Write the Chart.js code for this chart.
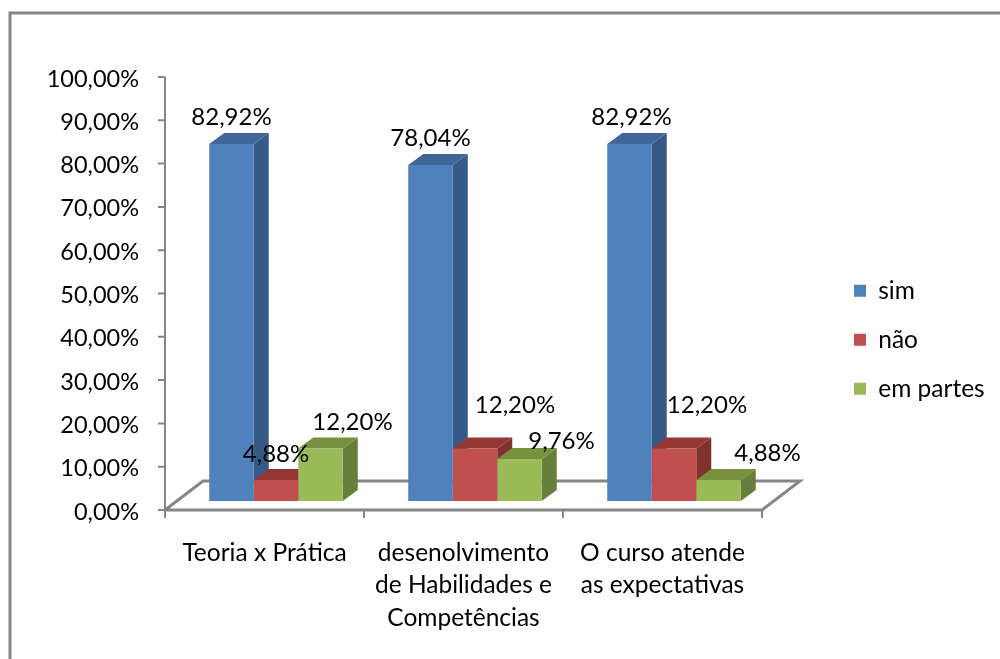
<!DOCTYPE html>
<html>
<head>
<meta charset="utf-8">
<script src="https://cdn.jsdelivr.net/npm/chart.js@4"></script>
<style>
  body { margin: 0; background: #fff; }
  canvas { display: block; }
</style>
</head>
<body>
<canvas id="chart-div" width="1000" height="659"></canvas>
<script>
const categories = [
  ['Teoria x Prática'],
  ['desenolvimento', 'de Habilidades e', 'Competências'],
  ['O curso atende', 'as expectativas']
];
const sim = [82.92, 78.04, 82.92];
const nao = [4.88, 12.20, 12.20];
const emPartes = [12.20, 9.76, 4.88];
const tickValues = [0, 10, 20, 30, 40, 50, 60, 70, 80, 90, 100];

const axisGrey = '#868686';

// [side, top] colours of the fake 3d boxes, one per series
const faceColors = [['#345a85', '#3f6898'], ['#7f3331', '#943734'], ['#66803b', '#77913f']];
const barDepth = { x: 15, y: -11 };
const floorDepth = { x: 38, y: -29 };
const axisShift = 11.5; // front of the floor sits left of and below the bars

// the labels do not sit on the bars in the original, so each one is nudged [dx, dy]
const labelNudge = [
  [[0, -27], [0, -27], [2, -27]],
  [[0, -26], [40, -43], [33, -43]],
  [[32, -26], [42, -18], [49, -27]]
];

function pct(v) {
  return v.toFixed(2).replace('.', ',') + '%';
}

const box3d = {
  id: 'box3d',
  afterLayout(chart) {
    // legend floats right of the plot
    const legend = chart.legend;
    legend.left = 829.5;
    legend.right = 1000;
    legend.top = 254;
    legend.bottom = 500;
  },
  beforeDatasetsDraw(chart) {
    const ctx = chart.ctx;
    const area = chart.chartArea;
    const yTicks = chart.scales.yTicks;
    const x0 = area.left - axisShift;
    const x1 = area.right - axisShift;
    const y0 = area.bottom;

    // outer frame, runs off the page on the right and bottom
    ctx.strokeStyle = axisGrey;
    ctx.lineWidth = 3;
    ctx.beginPath();
    ctx.moveTo(10, 659);
    ctx.lineTo(10, 13);
    ctx.lineTo(1000, 13);
    ctx.stroke();

    // floor
    ctx.lineWidth = 3;
    ctx.beginPath();
    ctx.moveTo(x0, y0);
    ctx.lineTo(x0 + floorDepth.x, y0 + floorDepth.y);
    ctx.lineTo(x1 + floorDepth.x, y0 + floorDepth.y);
    ctx.lineTo(x1, y0);
    ctx.lineTo(x0, y0);
    ctx.stroke();

    // y axis and tick marks
    ctx.lineWidth = 2;
    ctx.beginPath();
    ctx.moveTo(x0, yTicks.getPixelForValue(100));
    ctx.lineTo(x0, y0);
    tickValues.forEach(v => {
      const y = yTicks.getPixelForValue(v);
      ctx.moveTo(x0 - 7, y);
      ctx.lineTo(x0, y);
    });
    // x tick marks
    for (let i = 0; i <= categories.length; i++) {
      const x = x0 + (x1 - x0) * i / categories.length;
      ctx.moveTo(x, y0);
      ctx.lineTo(x, y0 + 8);
    }
    ctx.stroke();

    // sides and tops, fronts are the real bars drawn after this
    chart.data.datasets.forEach((ds, d) => {
      chart.getDatasetMeta(d).data.forEach(bar => {
        const left = bar.x - bar.width / 2;
        const right = bar.x + bar.width / 2;
        ctx.fillStyle = faceColors[d][0];
        ctx.beginPath();
        ctx.moveTo(right, bar.y);
        ctx.lineTo(right + barDepth.x, bar.y + barDepth.y);
        ctx.lineTo(right + barDepth.x, bar.base + barDepth.y);
        ctx.lineTo(right, bar.base);
        ctx.closePath();
        ctx.fill();
        ctx.fillStyle = faceColors[d][1];
        ctx.beginPath();
        ctx.moveTo(left, bar.y);
        ctx.lineTo(left + barDepth.x, bar.y + barDepth.y);
        ctx.lineTo(right + barDepth.x, bar.y + barDepth.y);
        ctx.lineTo(right, bar.y);
        ctx.closePath();
        ctx.fill();
      });
    });
  },
  afterDatasetsDraw(chart) {
    const ctx = chart.ctx;
    ctx.fillStyle = '#000';
    ctx.font = '24px Lato';
    ctx.textAlign = 'center';
    ctx.textBaseline = 'middle';
    chart.data.datasets.forEach((ds, d) => {
      chart.getDatasetMeta(d).data.forEach((bar, i) => {
        ctx.fillText(pct(ds.data[i]), bar.x + labelNudge[d][i][0], bar.y + labelNudge[d][i][1]);
      });
    });
  }
};

new Chart(document.getElementById('chart-div'), {
  type: 'bar',
  data: {
    labels: categories,
    datasets: [
      { label: 'sim', data: sim, backgroundColor: '#4f81bd' },
      { label: 'não', data: nao, backgroundColor: '#c0504d' },
      { label: 'em partes', data: emPartes, backgroundColor: '#9bbb59' }
    ]
  },
  options: {
    responsive: false,
    animation: false,
    layout: { padding: { top: 68, right: 226.5 } },
    barPercentage: 1,
    categoryPercentage: 0.671,
    plugins: {
      tooltip: { enabled: false },
      legend: {
        position: 'chartArea',
        align: 'start',
        labels: { boxWidth: 12, boxHeight: 12, padding: 24.5, color: '#000', font: { family: 'Lato', size: 24.5 } }
      }
    },
    scales: {
      x: {
        grid: { display: false },
        border: { display: false },
        afterFit(scale) { scale.height = 149; },
        ticks: {
          color: '#000',
          font: { family: 'Lato', size: 24.5, lineHeight: 1.327 },
          padding: 18.5,
          labelOffset: -axisShift,
          maxRotation: 0,
          autoSkip: false
        }
      },
      // bars stand on the raised floor, 0 sits above the printed 0,00%
      y: { display: false, min: -2.09, max: 100.58 },
      yTicks: {
        position: 'left',
        min: 0,
        max: 102.08,
        grid: { display: false },
        border: { display: false },
        afterFit(scale) { scale.width = 176.5; },
        ticks: {
          stepSize: 10,
          includeBounds: false,
          color: '#000',
          font: { family: 'Lato', size: 23.5 },
          padding: 29.5,
          labelOffset: 2,
          callback: v => pct(v)
        }
      }
    }
  },
  plugins: [box3d]
});
</script>
</body>
</html>
